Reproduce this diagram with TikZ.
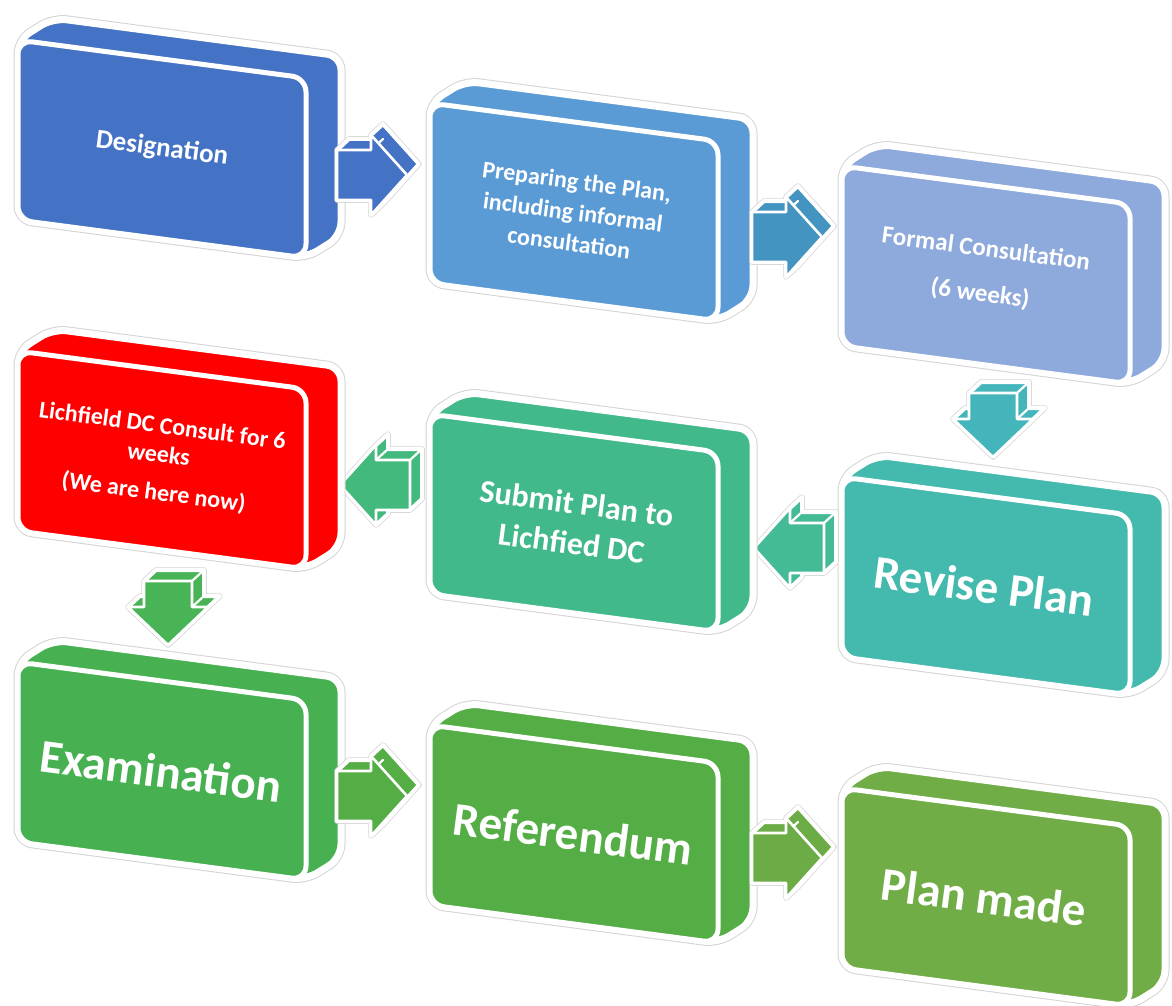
\documentclass[tikz,border=0pt]{standalone}
\usepackage{fontspec}
\setmainfont{Carlito}
\definecolor{bA}{HTML}{4472C4}
\definecolor{bB}{HTML}{5B9BD5}
\definecolor{bC}{HTML}{8EA9DB}
\definecolor{bD}{HTML}{44B9AE}
\definecolor{bE}{HTML}{42B98A}
\definecolor{bF}{HTML}{FF0000}
\definecolor{bG}{HTML}{47B152}
\definecolor{bH}{HTML}{55AD46}
\definecolor{bI}{HTML}{70AD47}
\definecolor{aA}{HTML}{4472C4}
\definecolor{aB}{HTML}{4394C0}
\definecolor{aC}{HTML}{45B5BC}
\definecolor{aD}{HTML}{45BA97}
\definecolor{aE}{HTML}{44B97D}
\definecolor{aF}{HTML}{48B455}
\definecolor{aG}{HTML}{54AD45}
\definecolor{aH}{HTML}{6CAC46}
\tikzset{
  lbl/.style={text=white, align=center, rotate=-7.5, inner sep=0pt},
  face/.style={draw=white, line width=5pt, line join=round, rounded corners=14pt},
  aface/.style={draw=white, line width=2.6pt, line join=round},
  aline/.style={draw=white, line width=2.2pt, line cap=round},
}
% 3D slab: X, Y (front top-left corner), colour
\newcommand\slab[3]{%
  \begin{scope}[shift={(#1,#2)}]
    \foreach \w/\c in {9/black!17, 7/white}{%
      \path[draw=\c, line width=\w pt, fill=#3, line join=round, rounded corners=14pt]
        (0,90) -- (0,0) -- (35,-22) -- (323,16) -- (323,196) -- (288,218) -- (0,180) -- cycle;}
    \path[face, fill=#3] (0,90) -- (0,0) -- (288,38) -- (288,218) -- (0,180) -- cycle;
  \end{scope}}
% right-pointing 3D arrow: origin = left end of shaft, centre
\newcommand\arrR[3]{%
  \begin{scope}[shift={(#1,#2)}]
    \foreach \w/\c in {5.5/black!17, 4/white}{%
      \path[draw=\c, line width=\w pt, fill=#3, line join=round]
        (0,25) -- (0,-25) -- (12,-36) -- (34,-36) -- (34,-40) -- (46,-51) -- (82,-11) -- (46,29) -- (34,40) -- (34,25) -- cycle;}
    \path[aline] (34,-25) -- (46,-36);
    \path[aface, fill=#3] (0,-25) -- (34,-25) -- (34,-40) -- (70,0) -- (34,40) -- (34,25) -- (0,25) -- cycle;
  \end{scope}}
% left-pointing 3D arrow: origin = right end of shaft, centre
\newcommand\arrL[3]{%
  \begin{scope}[shift={(#1,#2)}]
    \foreach \w/\c in {5.5/black!17, 4/white}{%
      \path[draw=\c, line width=\w pt, fill=#3, line join=round]
        (-70,0) -- (-34,-40) -- (-22,-51) -- (-22,-36) -- (12,-36) -- (12,14) -- (0,25) -- (-22,25) -- (-22,29) -- (-34,40) -- cycle;}
    \path[aline] (-34,-25) -- (-22,-36);
    \path[aline] (0,-25) -- (12,-36);
    \path[aface, fill=#3] (0,-25) -- (0,25) -- (-34,25) -- (-34,40) -- (-70,0) -- (-34,-40) -- (-34,-25) -- cycle;
  \end{scope}}
% downward 3D arrow: origin = top of shaft, centre
\newcommand\arrD[3]{%
  \begin{scope}[shift={(#1,#2)}]
    \foreach \w/\c in {5.5/black!17, 4/white}{%
      \path[draw=\c, line width=\w pt, fill=#3, line join=round]
        (-24,0) -- (-12,-11) -- (36,-11) -- (36,15) -- (52,15) -- (12,53) -- (0,64) -- (-40,26) -- (-28,15) -- (-24,15) -- cycle;}
    \path[aline] (24,0) -- (36,-11);
    \path[aline] (24,26) -- (36,15);
    \path[aline] (40,26) -- (52,15);
    \path[aface, fill=#3] (-24,0) -- (24,0) -- (24,26) -- (40,26) -- (0,64) -- (-40,26) -- (-24,26) -- cycle;
  \end{scope}}
\begin{document}
\begin{tikzpicture}[x=1pt,y=-1pt]
\useasboundingbox (0,0) rectangle (1172,1006);
% row 1
\slab{18}{40}{bA}
\arrR{337}{175}{aA}
\slab{430}{103}{bB}
\arrR{752}{237}{aB}
\slab{842}{166}{bC}
\arrD{993}{393}{aC}
% row 2
\slab{842}{477}{bD}
\arrL{824}{548}{aD}
\slab{430}{414}{bE}
\arrL{410}{485}{aE}
\slab{18}{351}{bF}
\arrD{168}{581}{aF}
% row 3
\slab{18}{662}{bG}
\arrR{337}{796}{aG}
\slab{430}{725}{bH}
\arrR{752}{858}{aH}
\slab{842}{788}{bI}
% labels
\node[lbl, font=\fontsize{27}{32}\selectfont\bfseries] (t1) at (162,149) {Designation};
\node[lbl, font=\fontsize{24}{31}\selectfont\bfseries] (t2) at (573,212) {Preparing the Plan,\\including informal\\consultation};
\node[lbl, font=\fontsize{25}{31}\selectfont\bfseries] (t3) at (983,272) {Formal Consultation\\[14pt](6 weeks)};
\node[lbl, font=\fontsize{47}{56}\selectfont\bfseries] (t4) at (984,586) {Revise Plan};
\node[lbl, font=\fontsize{32}{40}\selectfont\bfseries] (t5) at (574,523) {Submit Plan to\\Lichfied DC};
\node[lbl, font=\fontsize{24}{29}\selectfont\bfseries] (t6) at (158,460) {Lichfield DC Consult for 6\\weeks\\[9pt](We are here now)};
\node[lbl, font=\fontsize{47}{56}\selectfont\bfseries] (t7) at (161,771) {Examination};
\node[lbl, font=\fontsize{47}{56}\selectfont\bfseries] (t8) at (573,834) {Referendum};
\node[lbl, font=\fontsize{47}{56}\selectfont\bfseries] (t9) at (984,897) {Plan made};
\end{tikzpicture}
\end{document}
